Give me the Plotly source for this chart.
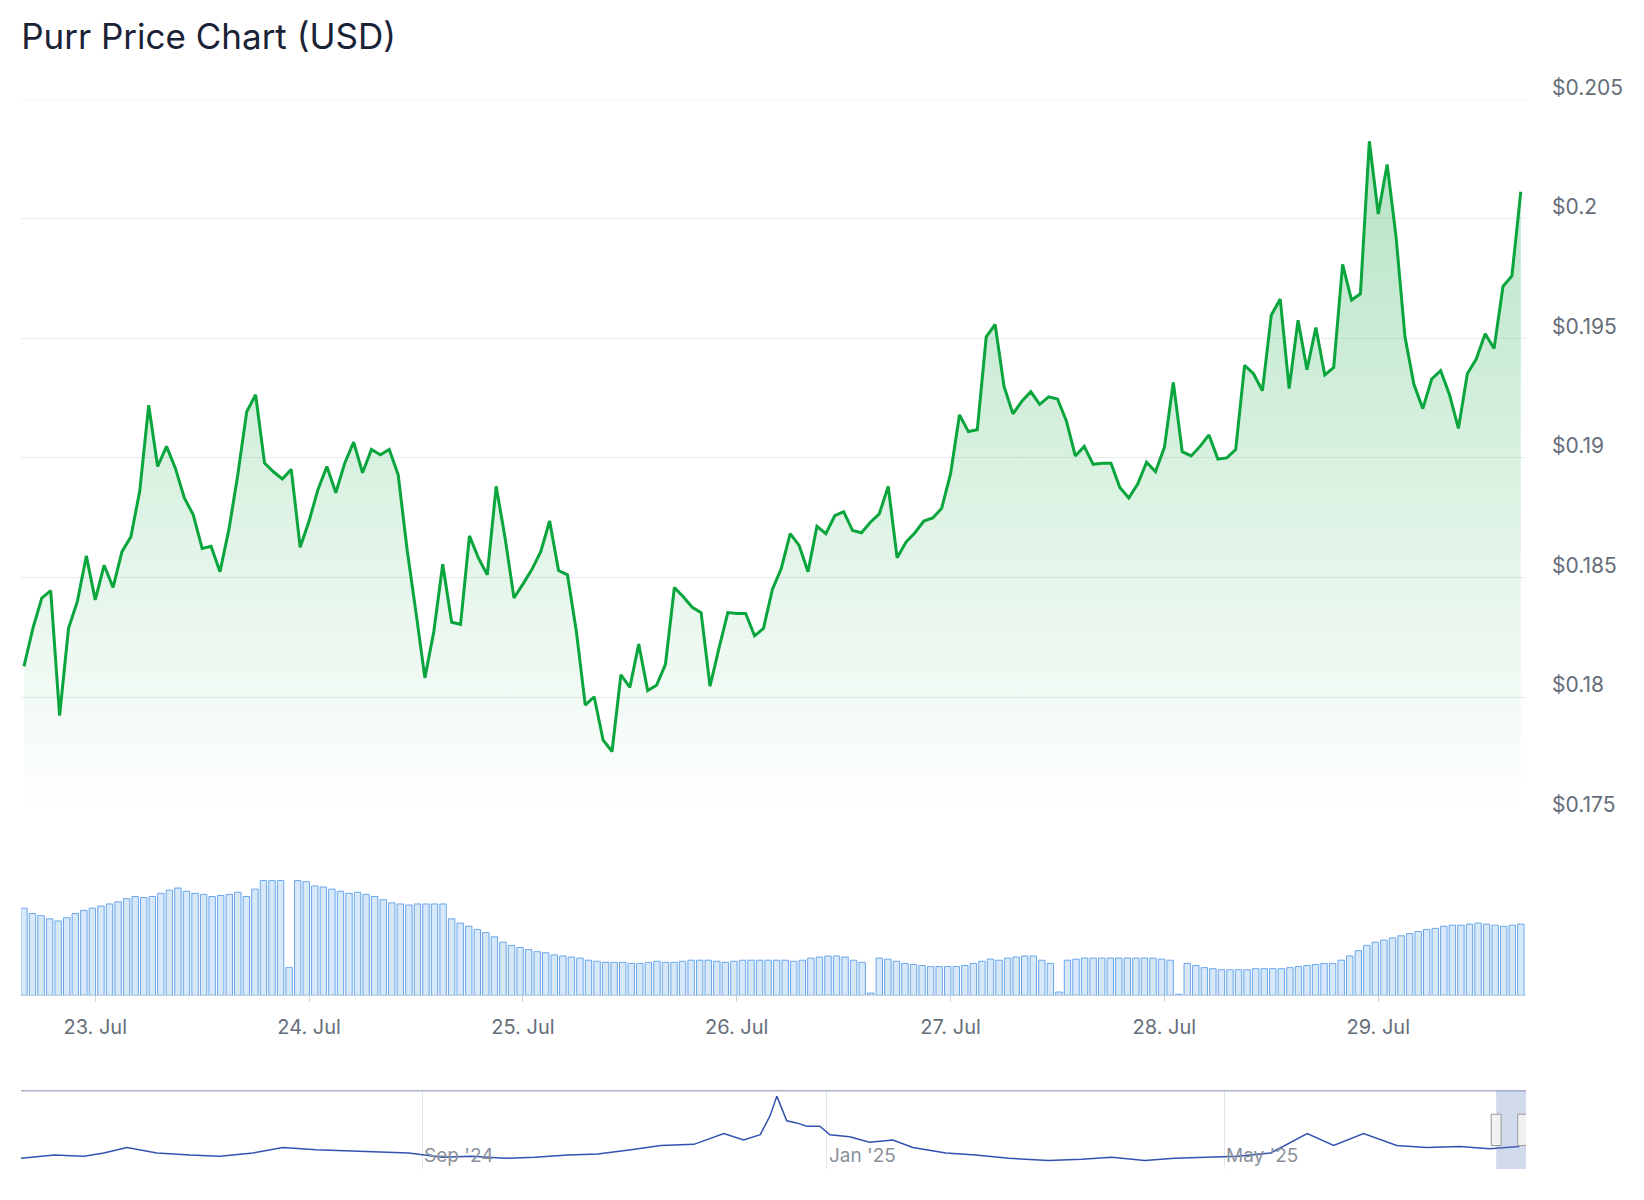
import pandas as pd
import plotly.graph_objects as go

# hourly price, 22 Jul 16:00 -> 29 Jul 16:00 (2025)
price = [0.18128, 0.18287, 0.18414, 0.18445, 0.17922, 0.18287, 0.18401, 0.1859, 0.18406, 0.18551,
         0.18458, 0.18608, 0.1867, 0.18863, 0.1922, 0.18964, 0.19048, 0.18956, 0.18832, 0.18762,
         0.18621, 0.1863, 0.18524, 0.187, 0.18929, 0.19193, 0.19264, 0.18978, 0.18942, 0.18912,
         0.18952, 0.18626, 0.18736, 0.18868, 0.18964, 0.18854, 0.18978, 0.19066, 0.18938, 0.19035,
         0.19013, 0.19035, 0.18929, 0.18617, 0.18353, 0.1808, 0.18274, 0.18555, 0.18313, 0.18304,
         0.18674, 0.18582, 0.18511, 0.18881, 0.18665, 0.18414, 0.18472, 0.18533, 0.18608, 0.18736,
         0.18529, 0.18511, 0.18274, 0.17966, 0.18001, 0.1782, 0.17772, 0.18093, 0.1804, 0.18221,
         0.18027, 0.18049, 0.18137, 0.18458, 0.18419, 0.18375, 0.18353, 0.18045, 0.18203, 0.18353,
         0.18349, 0.18349, 0.18256, 0.18287, 0.1845, 0.18538, 0.18683, 0.18634, 0.18524, 0.18714,
         0.18683, 0.18758, 0.18775, 0.18696, 0.18687, 0.18731, 0.18766, 0.18881, 0.18582, 0.18648,
         0.18687, 0.18736, 0.18749, 0.18789, 0.18934, 0.1918, 0.1911, 0.19118, 0.19506, 0.19558,
         0.19299, 0.19184, 0.19237, 0.19277, 0.19224, 0.19255, 0.19246, 0.19154, 0.19008, 0.19048,
         0.18973, 0.18978, 0.18978, 0.18876, 0.18832, 0.1889, 0.18982, 0.18942, 0.19044, 0.19316,
         0.19026, 0.19008, 0.19048, 0.19096, 0.18995, 0.19, 0.19035, 0.19387, 0.19352, 0.19281,
         0.19598, 0.19664, 0.1929, 0.19576, 0.19369, 0.19545, 0.19347, 0.19378, 0.19809, 0.1966,
         0.19686, 0.20324, 0.2002, 0.20227, 0.19924, 0.19506, 0.19308, 0.19206, 0.1933, 0.19365,
         0.19264, 0.19123, 0.19352, 0.19413, 0.19519, 0.19457, 0.19717, 0.19761, 0.20113]
times = pd.date_range("2025-07-22 16:00", periods=len(price), freq="h")

# volume (relative units)
volume = [82, 77, 75, 72, 70, 73, 77, 80, 82, 84, 86, 88, 91, 93, 92, 93, 96, 99, 101, 98,
          96, 95, 93, 94, 95, 97, 93, 100, 108, 108, 108, 26, 108, 107, 103, 102, 100, 98, 96, 97,
          95, 93, 90, 87, 86, 85, 86, 86, 86, 86, 72, 68, 65, 62, 59, 55, 50, 47, 45, 43,
          41, 40, 38, 37, 36, 35, 33, 32, 31, 31, 31, 30, 30, 31, 32, 31, 31, 32, 33, 33,
          33, 32, 31, 32, 33, 33, 33, 33, 33, 33, 32, 33, 35, 36, 37, 37, 36, 33, 31, 2,
          35, 34, 32, 30, 29, 28, 27, 27, 27, 27, 28, 30, 32, 34, 33, 35, 36, 37, 37, 33,
          30, 3, 33, 34, 35, 35, 35, 35, 35, 35, 35, 35, 35, 34, 33, 1, 30, 28, 26, 25,
          24, 24, 24, 24, 25, 25, 25, 25, 26, 27, 28, 29, 30, 30, 33, 37, 42, 47, 50, 52,
          54, 56, 58, 60, 62, 63, 65, 66, 66, 67, 68, 67, 66, 65, 66, 67]
vol_times = pd.date_range(times[0], times[-1], periods=len(volume))

# navigator: long-term history
nav_dates = ["2024-05-03", "2024-05-13", "2024-05-22", "2024-05-28", "2024-06-04", "2024-06-13",
             "2024-06-23", "2024-07-02", "2024-07-12", "2024-07-21", "2024-07-31", "2024-08-09",
             "2024-08-19", "2024-08-28", "2024-09-07", "2024-09-16", "2024-09-26", "2024-10-05",
             "2024-10-15", "2024-10-24", "2024-11-03", "2024-11-12", "2024-11-22", "2024-12-01",
             "2024-12-07", "2024-12-12", "2024-12-15", "2024-12-17", "2024-12-20", "2024-12-23",
             "2024-12-26", "2024-12-30", "2025-01-02", "2025-01-08", "2025-01-14", "2025-01-21",
             "2025-01-27", "2025-02-06", "2025-02-15", "2025-02-25", "2025-03-09", "2025-03-19",
             "2025-03-28", "2025-04-07", "2025-04-16", "2025-04-26", "2025-05-05", "2025-05-15",
             "2025-05-26", "2025-06-03", "2025-06-12", "2025-06-22", "2025-07-01", "2025-07-11",
             "2025-07-20", "2025-07-29"]
nav_values = [0.05, 0.08, 0.07, 0.10, 0.15, 0.10, 0.08, 0.07, 0.10, 0.15, 0.13, 0.12, 0.11, 0.10,
              0.06, 0.07, 0.05, 0.06, 0.08, 0.09, 0.13, 0.17, 0.18, 0.28, 0.22, 0.27, 0.45, 0.63,
              0.40, 0.38, 0.35, 0.35, 0.27, 0.25, 0.20, 0.22, 0.15, 0.10, 0.08, 0.05, 0.03, 0.04,
              0.06, 0.03, 0.05, 0.06, 0.07, 0.10, 0.28, 0.17, 0.28, 0.17, 0.15, 0.16, 0.14, 0.16]
nav_ticks = ["2024-09-01", "2025-01-01", "2025-05-01"]
nav_labels = ["Sep '24", "Jan '25", "May '25"]
price_ticks = [0.175, 0.18, 0.185, 0.19, 0.195, 0.2, 0.205]
price_labels = ["$0.175", "$0.18", "$0.185", "$0.19", "$0.195", "$0.2", "$0.205"]

grey = "#666e7a"
fig = go.Figure()

# baseline for gradient fill
fig.add_trace(go.Scatter(x=times, y=[0.175] * len(price), mode="lines",
                         line=dict(width=0), hoverinfo="skip", showlegend=False))
fig.add_trace(go.Scatter(
    x=times, y=price, mode="lines", fill="tonexty",
    line=dict(color="#0aa53c", width=3),
    fillgradient=dict(type="vertical",
                      colorscale=[[0, "rgba(10,165,60,0.0)"], [1, "rgba(10,165,60,0.30)"]]),
    showlegend=False, name="Price"))

fig.add_trace(go.Bar(x=vol_times, y=volume, xaxis="x2", yaxis="y2",
                     marker=dict(color="rgba(124,181,236,0.3)",
                                 line=dict(color="#6aa6ec", width=1)),
                     showlegend=False, name="Volume"))

fig.add_trace(go.Scatter(x=nav_dates, y=nav_values, xaxis="x3", yaxis="y3", mode="lines",
                         line=dict(color="#3352b0", width=1.5), showlegend=False))

xr = [times[0] - pd.Timedelta(minutes=20), times[-1] + pd.Timedelta(minutes=35)]
dom = [0, 1]

fig.update_layout(
    width=1644, height=1200,
    margin=dict(l=13, r=126, t=0, b=0),
    plot_bgcolor="white", paper_bgcolor="white",
    font=dict(family="Inter", color=grey),
    title=dict(text="Purr Price Chart (USD)", x=0.008, xanchor="left", y=1 - 27 / 1130, yanchor="middle",
               font=dict(size=35, color="#1b2236", family="Inter")),
    bargap=0.25,
    xaxis=dict(domain=dom, range=xr, showticklabels=False, showgrid=False, zeroline=False),
    yaxis=dict(domain=[0.3262, 0.924], range=[0.175, 0.205], side="right",
               tickvals=price_ticks, showticklabels=False, gridcolor="#e9ecef", zeroline=False),
    xaxis2=dict(domain=dom, range=xr, anchor="y2", showgrid=False, tickformat="%d. %b",
                dtick=86400000, tick0="2025-07-23", tickfont=dict(size=20, color=grey),
                showline=True, linecolor="#cdd3dc", ticks="outside", ticklen=6,
                tickcolor="#cdd3dc", ticklabelstandoff=8),
    yaxis2=dict(domain=[0.1773, 0.2746], range=[0, 110], visible=False),
    xaxis3=dict(domain=dom, range=["2024-05-03", "2025-07-31"], anchor="y3",
                showticklabels=False, showgrid=True, gridcolor="#e3e6eb", tickvals=nav_ticks,
                zeroline=False),
    yaxis3=dict(domain=[0.0325, 0.0977], range=[-0.05, 0.68], visible=False),
)

# top gridline at the edge of the range
fig.add_shape(type="line", xref="x domain", yref="y", x0=0, x1=1, y0=0.205, y1=0.205,
              line=dict(color="#e9ecef", width=1))

# price labels sit just above their gridlines
for v, t in zip(price_ticks, price_labels):
    fig.add_annotation(x=1, y=v, xref="paper", yref="y", text=t, showarrow=False,
                       xanchor="left", yanchor="middle", xshift=24, yshift=12,
                       font=dict(size=21, color=grey))

# navigator outline and labels
fig.add_shape(type="line", xref="x3 domain", yref="y3 domain", x0=0, x1=1, y0=1, y1=1,
              line=dict(color="#aab3c8", width=1.5))
for d, t in zip(nav_ticks, nav_labels):
    fig.add_annotation(x=d, y=0.0, xref="x3", yref="y3 domain", text=t, showarrow=False,
                       xanchor="left", yanchor="bottom", font=dict(size=19, color="#8b919b"))

# selected range mask and handles
fig.add_shape(type="rect", xref="x3", yref="y3 domain", x0="2025-07-22", x1="2025-07-31",
              y0=0, y1=1, fillcolor="rgba(102,133,194,0.3)", line=dict(width=0))
for d in ["2025-07-22", "2025-07-30"]:
    fig.add_shape(type="rect", xref="x3", yref="y3 domain",
                  x0=pd.Timestamp(d) - pd.Timedelta(days=1.5), x1=pd.Timestamp(d) + pd.Timedelta(days=1.5),
                  y0=0.3, y1=0.7, fillcolor="#f2f2f2", line=dict(color="#999999", width=1))

fig.write_html("out.html")
